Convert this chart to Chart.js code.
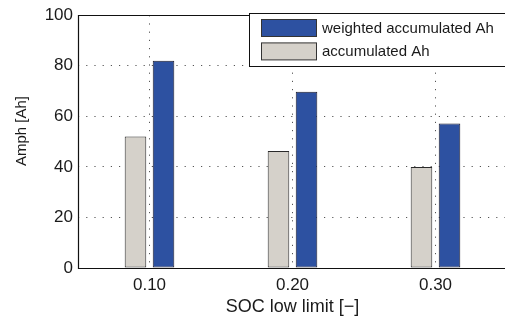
<!DOCTYPE html>
<html lang="en">
<head>
    <meta charset="UTF-8">
    <title>SOC low limit</title>
    <script src="https://cdn.jsdelivr.net/npm/chart.js"></script>
    <style>
        html, body {
            margin: 0;
            padding: 0;
            background: #fff;
            overflow: hidden;
        }
        #wrap {
            width: 512px;
            height: 320px;
        }
    </style>
</head>
<body>
    <div id="wrap">
        <canvas id="socChart" width="512" height="320"></canvas>
    </div>

    <script>
        const categories = ['0.10', '0.20', '0.30'];
        const accumulatedAh = [52, 46.3, 40];
        const weightedAh = [82, 69.7, 57.2];
        const yTickValues = [0, 20, 40, 60, 80, 100];

        const xTitle = 'SOC low limit [\u2212]';
        const yTitle = 'Amph [Ah]';

        const fontFamily = '"Liberation Sans", Arial, Helvetica, sans-serif';
        const textColor = '#1a1a1a';

        // frame, legend box and y label drawn on top of the library output
        const framePlugin = {
            id: 'framePlugin',
            afterDraw(chart) {
                const ctx = chart.ctx;
                const a = chart.chartArea;
                ctx.save();

                ctx.strokeStyle = '#111';
                ctx.lineWidth = 1.2;
                ctx.setLineDash([]);
                ctx.beginPath();
                ctx.moveTo(a.right, Math.round(a.top) + 0.5);
                ctx.lineTo(Math.round(a.left) + 0.5, Math.round(a.top) + 0.5);
                ctx.lineTo(Math.round(a.left) + 0.5, Math.round(a.bottom) + 0.5);
                ctx.lineTo(a.right, Math.round(a.bottom) + 0.5);
                ctx.stroke();

                // legend (weighted first, like the original)
                const bx = 249.5, by = 13.5, bw = 300, bh = 53;
                ctx.fillStyle = '#fff';
                ctx.fillRect(bx, by, bw, bh);
                ctx.strokeStyle = '#111';
                ctx.lineWidth = 1;
                ctx.strokeRect(bx, by, bw, bh);

                const items = [chart.data.datasets[1], chart.data.datasets[0]];
                ctx.font = '15px ' + fontFamily;
                ctx.textBaseline = 'middle';
                ctx.textAlign = 'left';
                items.forEach((ds, i) => {
                    const sy = 19.5 + i * 23.4;
                    ctx.fillStyle = ds.backgroundColor;
                    ctx.fillRect(261.5, sy, 55, 17);
                    ctx.strokeStyle = '#333';
                    ctx.strokeRect(261.5, sy, 55, 17);
                    ctx.fillStyle = textColor;
                    ctx.fillText(ds.label, 322, sy + 9);
                });

                // y title
                ctx.translate(22, 131);
                ctx.rotate(-Math.PI / 2);
                ctx.textAlign = 'center';
                ctx.textBaseline = 'middle';
                ctx.font = '15px ' + fontFamily;
                ctx.fillStyle = textColor;
                ctx.fillText(yTitle, 0, 0);

                ctx.restore();
            }
        };

        const ctx = document.getElementById('socChart').getContext('2d');
        const socChart = new Chart(ctx, {
            type: 'bar',
            data: {
                labels: categories,
                datasets: [
                    {
                        label: 'accumulated Ah',
                        data: accumulatedAh,
                        backgroundColor: '#d5d1ca',
                        borderColor: '#2a2a2a',
                        borderWidth: 1,
                        borderSkipped: false
                    },
                    {
                        label: 'weighted accumulated Ah',
                        data: weightedAh,
                        backgroundColor: '#2d51a1',
                        borderColor: '#1a1a2a',
                        borderWidth: 1,
                        borderSkipped: false
                    }
                ]
            },
            options: {
                responsive: false,
                animation: false,
                categoryPercentage: 0.392,
                barPercentage: 0.77,
                layout: {
                    padding: { top: 13, right: 5, bottom: 0, left: 0 }
                },
                plugins: {
                    legend: { display: false },
                    tooltip: { enabled: false }
                },
                scales: {
                    x: {
                        offset: true,
                        grid: {
                            offset: false,
                            color: '#555',
                            lineWidth: 1,
                            drawTicks: false
                        },
                        border: { display: false, dash: [1.2, 7] },
                        ticks: {
                            color: textColor,
                            padding: 7,
                            font: { family: fontFamily, size: 17 }
                        },
                        title: {
                            display: true,
                            text: xTitle,
                            color: textColor,
                            padding: { top: 0, bottom: 2 },
                            font: { family: fontFamily, size: 18 }
                        },
                        afterFit(scale) {
                            scale.height = 52;
                        }
                    },
                    y: {
                        min: 0,
                        max: 100,
                        afterBuildTicks(scale) {
                            scale.ticks = yTickValues.map(v => ({ value: v }));
                        },
                        grid: {
                            color: '#555',
                            lineWidth: 1,
                            drawTicks: false
                        },
                        border: { display: false, dash: [1.2, 7] },
                        ticks: {
                            color: textColor,
                            padding: 5,
                            font: { family: fontFamily, size: 17 }
                        },
                        afterFit(scale) {
                            scale.width = 78;
                        }
                    }
                }
            },
            plugins: [framePlugin]
        });
    </script>
</body>
</html>
